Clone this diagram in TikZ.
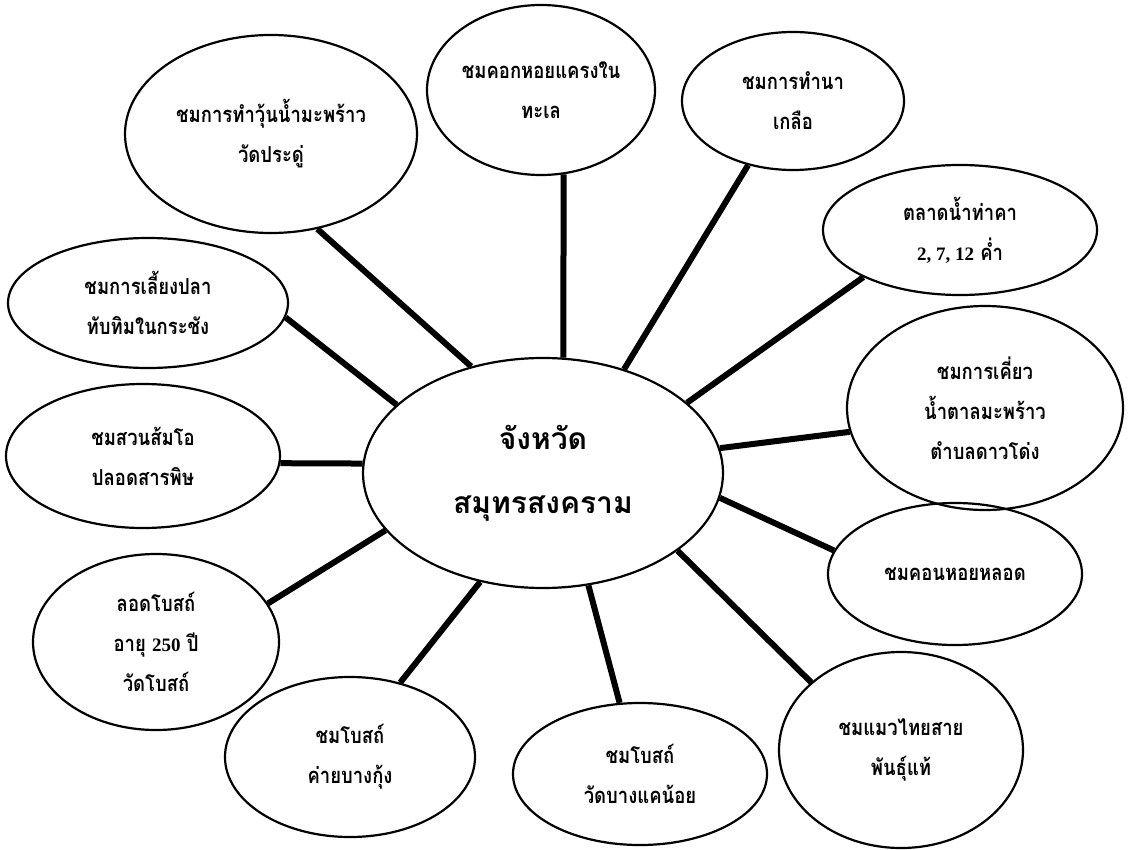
\documentclass[tikz,border=0pt]{standalone}
\usepackage{fontspec}
\usetikzlibrary{shapes.geometric}
\newfontfamily\thaifont[Script=Thai]{Loma}
\newfontfamily\thainarrow[Script=Thai,FakeStretch=0.84]{Loma}
\newfontfamily\numfont{Liberation Serif}
\begin{document}
\begin{tikzpicture}[x=1pt,y=-1pt,
  bubble/.style={ellipse, draw, line width=2.2pt, inner sep=0pt, align=center,
    font=\thainarrow\bfseries\fontsize{22}{40}\selectfont},
  hub/.style={ellipse, draw, line width=2.2pt, inner sep=0pt, align=center,
    font=\thaifont\bfseries\fontsize{30}{64}\selectfont},
  conn/.style={line width=6pt}]
\useasboundingbox (0,0) rectangle (1139,850);

\node[hub, minimum width=360pt, minimum height=230pt] (c) at (543,473) {จังหวัด\\สมุทรสงคราม};

\node[bubble, minimum width=292pt, minimum height=198pt] (n1) at (271,134) {ชมการทำวุ้นน้ำมะพร้าว\\วัดประดู่};
\node[bubble, minimum width=228pt, minimum height=170pt] (n2) at (541,90) {ชมคอกหอยแครงใน\\ทะเล};
\node[bubble, minimum width=222pt, minimum height=138pt] (n3) at (793,101) {ชมการทำนา\\เกลือ};
\node[bubble, minimum width=274pt, minimum height=130pt] (n4) at (960,230) {ตลาดน้ำท่าคา\\{\numfont\bfseries\fontsize{19}{40}\selectfont 2, 7, 12} ค่ำ};
\node[bubble, minimum width=276pt, minimum height=204pt] (n5) at (985,408) {ชมการเคี่ยว\\น้ำตาลมะพร้าว\\ตำบลดาวโด่ง};
\node[bubble, minimum width=254pt, minimum height=142pt] (n6) at (955,574) {ชมคอนหอยหลอด};
\node[bubble, minimum width=244pt, minimum height=196pt] (n7) at (901,750) {ชมแมวไทยสาย\\พันธุ์แท้};
\node[bubble, minimum width=254pt, minimum height=142pt] (n8) at (640,774) {ชมโบสถ์\\วัดบางแคน้อย};
\node[bubble, minimum width=250pt, minimum height=160pt] (n9) at (350,757) {ชมโบสถ์\\ค่ายบางกุ้ง};
\node[bubble, minimum width=246pt, minimum height=176pt] (n10) at (156,642) {ลอดโบสถ์\\อายุ {\numfont\bfseries\fontsize{19}{40}\selectfont 250} ปี\\วัดโบสถ์};
\node[bubble, minimum width=274pt, minimum height=144pt] (n11) at (143,456) {ชมสวนส้มโอ\\ปลอดสารพิษ};
\node[bubble, minimum width=280pt, minimum height=130pt] (n12) at (148,303) {ชมการเลี้ยงปลา\\ทับทิมในกระชัง};

\draw[conn] (n1.-64) -- (c.124);
\draw[conn] (n2.-75) -- (c.80);
\draw[conn] (n3.-125) -- (c.52);
\draw[conn] (n4.-154) -- (c.26);
\draw[conn] (n5.190) -- (c.8);
\draw[conn] (n6.169) -- (c.-8);
\draw[conn] (n7.143) -- (c.-30);
\draw[conn] (n8.106) -- (c.-68);
\draw[conn] (n9.56) -- (c.-120);
\draw[conn] (n10.19) -- (c.-160);
\draw[conn] (n11.-3) -- (c.177);
\draw[conn] (n12.-6) -- (c.155);
\end{tikzpicture}
\end{document}
